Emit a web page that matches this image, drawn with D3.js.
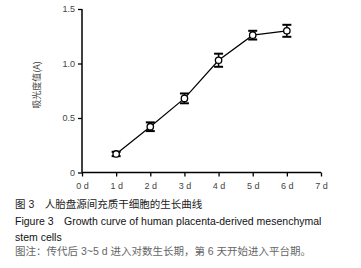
<!DOCTYPE html>
<html>
<head>
<meta charset="utf-8">
<script src="https://cdn.jsdelivr.net/npm/d3@7"></script>
<style>
  body { margin: 0; background: #fff; }
  svg { display: block; }
  .tick text { font-family: "Liberation Sans", Arial, sans-serif; font-size: 9px; fill: #444; }
  .cap { font-family: "Liberation Sans", "Noto Sans CJK SC", sans-serif; font-size: 10.5px; }
</style>
</head>
<body>
<div id="chart"></div>
<script>
// growth curve data
var days = [1, 2, 3, 4, 5, 6];
var absorbance = [0.17, 0.42, 0.68, 1.03, 1.26, 1.30];
var errors = [0.02, 0.04, 0.045, 0.06, 0.04, 0.055];
var xTicks = [0, 1, 2, 3, 4, 5, 6, 7];
var yTicks = [0, 0.5, 1.0, 1.5];
var yTickLabels = ['0', '0.5', '1.0', '1.5'];

var width = 361, height = 268;
var margin = { left: 82, top: 9, right: 40, bottom: 95 };

var svg = d3.select('#chart').append('svg')
    .attr('width', width)
    .attr('height', height);

var x = d3.scaleLinear().domain([0, 7]).range([margin.left, 321]);
var y = d3.scaleLinear().domain([0, 1.5]).range([172.5, margin.top]);

var xAxis = d3.axisBottom(x)
    .tickValues(xTicks)
    .tickSize(4)
    .tickPadding(6)
    .tickFormat(function (d) { return d + ' d'; });
var yAxis = d3.axisLeft(y)
    .tickValues(yTicks)
    .tickSize(4)
    .tickPadding(3)
    .tickFormat(function (d, i) { return yTickLabels[i]; });

var gx = svg.append('g')
    .attr('transform', 'translate(0,' + y(0) + ')')
    .call(xAxis);
var gy = svg.append('g')
    .attr('transform', 'translate(' + x(0) + ',0)')
    .call(yAxis);
[gx, gy].forEach(function (g) {
    g.select('.domain').attr('stroke', '#000').attr('stroke-width', 1.5);
    g.selectAll('.tick line').attr('stroke', '#000').attr('stroke-width', 1.3);
});
gx.select('.domain').attr('d', 'M' + x(0) + ',0H' + x(7));
gy.select('.domain').attr('d', 'M0,' + y(0) + 'V' + y(1.5));
gx.selectAll('.tick text').attr('dy', '0.71em');

// y label
svg.append('text')
    .attr('transform', 'translate(40,' + 85 + ') rotate(-90)')
    .attr('text-anchor', 'middle')
    .attr('font-family', '"Noto Sans CJK SC", sans-serif')
    .attr('font-size', 9)
    .attr('fill', '#444')
    .text('吸光度值(A)');

var pts = days.map(function (d, i) {
    return { d: d, v: absorbance[i], e: errors[i] };
});

var line = d3.line()
    .x(function (p) { return x(p.d); })
    .y(function (p) { return y(p.v); });

svg.append('path')
    .datum(pts)
    .attr('d', line)
    .attr('fill', 'none')
    .attr('stroke', '#000')
    .attr('stroke-width', 1.2);

var mk = svg.selectAll('.mk').data(pts).enter().append('g').attr('class', 'mk');
mk.append('line')
    .attr('x1', function (p) { return x(p.d); })
    .attr('x2', function (p) { return x(p.d); })
    .attr('y1', function (p) { return y(p.v + p.e); })
    .attr('y2', function (p) { return y(p.v - p.e); })
    .attr('stroke', '#000').attr('stroke-width', 1.5);
['+', '-'].forEach(function (s) {
    mk.append('line')
        .attr('x1', function (p) { return x(p.d) - 4.5; })
        .attr('x2', function (p) { return x(p.d) + 4.5; })
        .attr('y1', function (p) { return y(s === '+' ? p.v + p.e : p.v - p.e); })
        .attr('y2', function (p) { return y(s === '+' ? p.v + p.e : p.v - p.e); })
        .attr('stroke', '#000').attr('stroke-width', 2);
});
mk.append('circle')
    .attr('cx', function (p) { return x(p.d); })
    .attr('cy', function (p) { return y(p.v); })
    .attr('r', 3.2)
    .attr('fill', '#fff')
    .attr('stroke', '#000')
    .attr('stroke-width', 1.3);

// caption
var caption = [
    { t: '图 3　人胎盘源间充质干细胞的生长曲线', y: 208, c: '#222' },
    { t: 'Figure 3　Growth curve of human placenta-derived mesenchymal', y: 225, c: '#111' },
    { t: 'stem cells', y: 241, c: '#111' },
    { t: '图注：传代后 3~5 d 进入对数生长期，第 6 天开始进入平台期。', y: 255, c: '#666' }
];
svg.selectAll('.cap').data(caption).enter().append('text')
    .attr('class', 'cap')
    .attr('x', 15)
    .attr('y', function (d) { return d.y; })
    .attr('fill', function (d) { return d.c; })
    .text(function (d) { return d.t; });
</script>
</body>
</html>
